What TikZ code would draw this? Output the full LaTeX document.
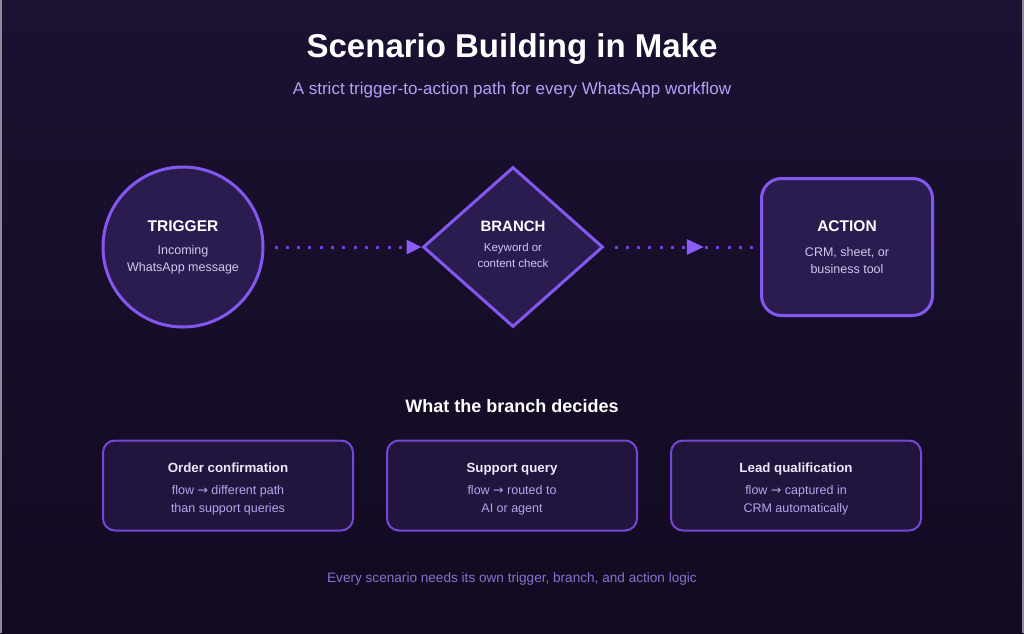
\documentclass[tikz,border=0pt]{standalone}
\usepackage{fontspec}
\setmainfont{Liberation Sans}
\newfontfamily\arrowfont{DejaVu Sans}
\newcommand\myrarr{{\arrowfont\fontsize{12.5}{15}\selectfont →}}
\usetikzlibrary{arrows.meta,shapes.geometric,decorations.markings,calc}
\definecolor{bgtop}{HTML}{1B1132}
\definecolor{bgbot}{HTML}{120A20}
\definecolor{nodefill}{HTML}{2A1C4F}
\definecolor{nodeline}{HTML}{8458F0}
\definecolor{boxfill}{HTML}{21153D}
\definecolor{boxline}{HTML}{7448D4}
\definecolor{dotc}{HTML}{7C3AED}
\definecolor{arrowc}{HTML}{8B5CF6}
\definecolor{subtxt}{HTML}{D2C6F4}
\definecolor{lav}{HTML}{B89FF7}
\definecolor{boxtxt}{HTML}{B6A4EE}
\definecolor{foot}{HTML}{8A70D2}
\definecolor{boxtitle}{HTML}{EEE8FF}
\definecolor{edgec}{HTML}{8C8A98}
\begin{document}
\begin{tikzpicture}[x=1pt,y=-1pt,
  mainshape/.style={draw=nodeline,line width=3pt,fill=nodefill,inner sep=0pt},
  card/.style={draw=boxline,line width=2pt,fill=boxfill,rounded corners=12pt,minimum width=250pt,minimum height=90pt,inner sep=0pt},
  dotline/.style={dotc,line width=3pt,dash pattern=on 3pt off 8.3pt},
  txt/.style={anchor=base,inner sep=0pt},
  ttl/.style={txt,white,font=\bfseries\fontsize{33}{38}\selectfont},
  subttl/.style={txt,lav,font=\fontsize{17}{20}\selectfont},
  head/.style={txt,white,font=\bfseries\fontsize{15.5}{18}\selectfont},
  small/.style={txt,subtxt,font=\fontsize{12.5}{15}\selectfont},
  tiny/.style={txt,subtxt,font=\fontsize{11.5}{14}\selectfont},
  sect/.style={txt,white,font=\bfseries\fontsize{18}{21}\selectfont},
  cardttl/.style={txt,boxtitle,font=\bfseries\fontsize{13.3}{16}\selectfont},
  cardtxt/.style={txt,boxtxt,font=\fontsize{12.5}{15}\selectfont},
  foottxt/.style={txt,foot,font=\fontsize{13.6}{16}\selectfont}
]
\useasboundingbox (0,0) rectangle (1024,633);
\shade[top color=bgtop,bottom color=bgbot] (0,0) rectangle (1024,633);
\draw[edgec,line width=1.5pt] (1,0) -- (1,633);
\draw[edgec,line width=1.5pt] (1023,0) -- (1023,633);

% titles
\node[ttl] (title) at (512,57) {Scenario Building in Make};
\node[subttl] (subtitle) at (512,94) {A strict trigger-to-action path for every WhatsApp workflow};

% main flow shapes
\node[mainshape,circle,minimum size=160pt] (trig) at (183,247) {};
\node[mainshape,diamond,minimum width=180pt,minimum height=160pt] (branch) at (513,247) {};
\node[mainshape,rounded corners=20pt,minimum width=171pt,minimum height=137pt] (action) at (847,247) {};

% connectors
\draw[dotline,-{Triangle[length=15pt,width=14pt,color=arrowc]}]
  ($(trig.east)+(10,0)$) -- (branch.west);
\coordinate (c2s) at ($(branch.east)+(10,0)$);
\coordinate (c2e) at ($(action.west)+(-6,0)$);
\draw[dotline,postaction={decorate},
  decoration={markings,mark=at position 0.64 with {\arrow{Triangle[length=17pt,width=15pt,color=arrowc]}}}]
  (c2s) -- (c2e);

% texts in shapes
\node[head] (trigh) at (183,231) {TRIGGER};
\node[small] (trig1) at (183,254) {Incoming};
\node[small] (trig2) at (183,271) {WhatsApp message};
\node[head,font=\bfseries\fontsize{15}{18}\selectfont] (branchh) at (513,231) {BRANCH};
\node[tiny] (branch1) at (513,251) {Keyword or};
\node[tiny] (branch2) at (513,267) {content check};
\node[head] (actionh) at (847,231) {ACTION};
\node[small] (action1) at (847,256) {CRM, sheet, or};
\node[small] (action2) at (847,273) {business tool};

% section
\node[sect] (sec) at (512,412) {What the branch decides};

\node[card] (box1) at (228,485.5) {};
\node[card] (box2) at (512,485.5) {};
\node[card] (box3) at (796,485.5) {};

\node[cardttl] (b1t) at (228,472) {Order confirmation};
\node[cardtxt] (b1a) at (228,494) {flow \myrarr{} different path};
\node[cardtxt] (b1b) at (228,512) {than support queries};
\node[cardttl] (b2t) at (512,472) {Support query};
\node[cardtxt] (b2a) at (512,494) {flow \myrarr{} routed to};
\node[cardtxt] (b2b) at (512,512) {AI or agent};
\node[cardttl] (b3t) at (796,472) {Lead qualification};
\node[cardtxt] (b3a) at (796,494) {flow \myrarr{} captured in};
\node[cardtxt] (b3b) at (796,512) {CRM automatically};

\node[foottxt] (footer) at (512,582) {Every scenario needs its own trigger, branch, and action logic};
\end{tikzpicture}
\end{document}
